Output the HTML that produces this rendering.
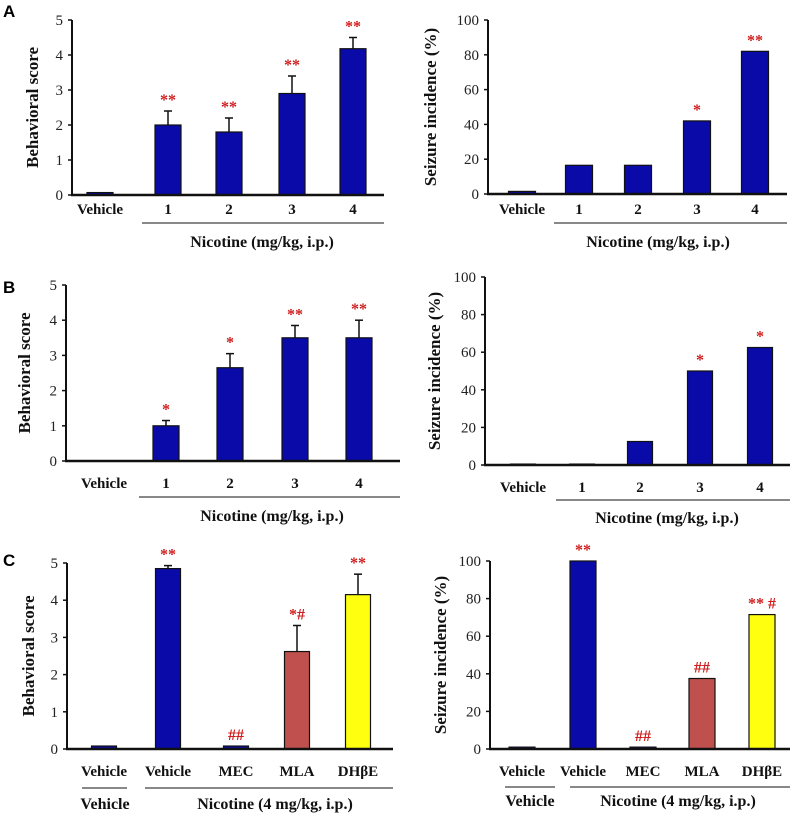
<!DOCTYPE html>
<html><head><meta charset="utf-8">
<style>
html,body{margin:0;padding:0;background:#fff;}
svg{display:block;font-family:"Liberation Serif",serif;}
.tk{font-size:15px;fill:#222;}
.cl{font-size:15px;font-weight:bold;fill:#111;}
.yt{font-size:17px;font-weight:bold;fill:#111;}
.sig{font-size:16px;fill:#d01c1c;font-weight:bold;}
.pl{font-family:"Liberation Sans",sans-serif;font-size:17px;font-weight:bold;}
</style></head><body>
<svg id="fig" width="800" height="826" viewBox="0 0 800 826">
<text class="pl" x="3" y="17">A</text>
<text class="pl" x="3" y="293">B</text>
<text class="pl" x="3" y="566">C</text>
</svg>
<script>
// ---- data ----
const catsDose = ["Vehicle","1","2","3","4"];
const catsC = ["Vehicle","Vehicle","MEC","MLA","DHβE"];
const aScore = [0.07,2.0,1.8,2.9,4.18];
const aScoreErr = [0,0.4,0.4,0.5,0.32];
const aScoreSig = ["","**","**","**","**"];
const aSeiz = [1.5,16.5,16.5,42,82];
const aSeizSig = ["","","","*","**"];
const bScore = [0,1.0,2.65,3.5,3.5];
const bScoreErr = [0,0.15,0.4,0.35,0.5];
const bScoreSig = ["","*","*","**","**"];
const bSeiz = [0.5,0.5,12.5,50,62.5];
const bSeizSig = ["","","","*","*"];
const cScore = [0.08,4.85,0.08,2.62,4.15];
const cScoreErr = [0,0.08,0,0.7,0.55];
const cScoreSig = ["","**","##","*#","**"];
const cSeiz = [1,100,1,37.5,71.5];
const cSeizSig = ["","**","##","##","** #"];
const colorsDose = ["#0a0aa8","#0a0aa8","#0a0aa8","#0a0aa8","#0a0aa8"];
const colorsC = ["#0a0aa8","#0a0aa8","#0a0aa8","#c0504d","#ffff10"];
const scoreTicks = [0,1,2,3,4,5];
const pctTicks = [0,20,40,60,80,100];

const NS="http://www.w3.org/2000/svg";
const svg=document.getElementById('fig');
function mk(tag,attrs,parent){const e=document.createElementNS(NS,tag);for(const k in attrs)e.setAttribute(k,attrs[k]);(parent||svg).appendChild(e);return e;}

function chart(p){
  const g=mk('g',{});
  
  
  const y=v=>p.y0-(v/p.max)*(p.y0-p.ytop);
  const ax=mk('line',{x1:p.ax,y1:p.ytop,x2:p.ax,y2:p.y0+1,stroke:'#111','stroke-width':2},g);
  
  
  p.ticks.forEach(t=>{
    const tl=mk('line',{x1:p.ax-4,y1:y(t),x2:p.ax,y2:y(t),stroke:'#111','stroke-width':1.5},g);
    
    
    const tx=mk('text',{x:p.ax-9,y:y(t)+5,'text-anchor':'end',class:'tk'},g);
    tx.textContent=t;
    
    
  });
  const yt=mk('text',{x:0,y:0,class:'yt','text-anchor':'middle',transform:`translate(${p.ytx},${(p.y0+p.ytop)/2}) rotate(-90)`},g);
  yt.textContent=p.ytitle;
  
  
  p.vals.forEach((v,i)=>{
    const cx=p.xs[i], top=y(v);
    if(p.err && p.err[i]>0){
      const el=mk('line',{x1:cx,y1:y(v+p.err[i]),x2:cx,y2:top,stroke:'#111','stroke-width':1.5},g);
      
      
      const ec=mk('line',{x1:cx-4,y1:y(v+p.err[i]),x2:cx+4,y2:y(v+p.err[i]),stroke:'#111','stroke-width':1.5},g);
      
      
    }
    const b=mk('rect',{x:cx-p.bw/2,y:top,width:p.bw,height:Math.max(p.y0-top,0),fill:p.colors[i],stroke:'#111','stroke-width':1.2},g);
    
    
    if(p.sig[i]){
      const st=p.err?y(v+p.err[i]):top;
      const s=mk('text',{x:cx,y:st-6,'text-anchor':'middle',class:'sig'},g);
      s.textContent=p.sig[i];
      
      
    }
    const cl=mk('text',{x:cx,y:p.ly,'text-anchor':'middle',class:'cl'},g);
    cl.textContent=p.cats[i];
    
    
  });
  const xa=mk('line',{x1:p.ax-1,y1:p.y0,x2:p.xend,y2:p.y0,stroke:'#111','stroke-width':2.5},g);
  
  
  p.unders.forEach(u=>{
    const l=mk('line',{x1:u[0],y1:p.uy,x2:u[1],y2:p.uy,stroke:'#111','stroke-width':1},g);
    
    
  });
  p.titles.forEach(t=>{
    const tt=mk('text',{x:t[1],y:p.ty,'text-anchor':'middle',class:'cl','font-size':'16px',style:'font-size:16px'},g);
    tt.textContent=t[0];
    
    
  });
}

chart({name:'chart-a-behavioral-score',ax:72,y0:195,ytop:20,max:5,ticks:scoreTicks,ytx:38,ytitle:'Behavioral score',
  xs:[100,168,229,292,353],bw:26,vals:aScore,err:aScoreErr,sig:aScoreSig,colors:colorsDose,cats:catsDose,ly:214,xend:384,
  uy:223,unders:[[142,384]],ty:247,titles:[['Nicotine (mg/kg, i.p.)',262]]});
chart({name:'chart-a-seizure-incidence',ax:488,y0:194,ytop:20,max:100,ticks:pctTicks,ytx:436,ytitle:'Seizure incidence (%)',
  xs:[522,579,638,697,755],bw:27,vals:aSeiz,err:null,sig:aSeizSig,colors:colorsDose,cats:catsDose,ly:214,xend:787,
  uy:223,unders:[[554,787]],ty:247,titles:[['Nicotine (mg/kg, i.p.)',658]]});
chart({name:'chart-b-behavioral-score',ax:66,y0:461,ytop:285,max:5,ticks:scoreTicks,ytx:30,ytitle:'Behavioral score',
  xs:[104,166,230,295,359],bw:26,vals:bScore,err:bScoreErr,sig:bScoreSig,colors:colorsDose,cats:catsDose,ly:488,xend:400,
  uy:497,unders:[[139,400]],ty:521,titles:[['Nicotine (mg/kg, i.p.)',272]]});
chart({name:'chart-b-seizure-incidence',ax:485,y0:465,ytop:277,max:100,ticks:pctTicks,ytx:440,ytitle:'Seizure incidence (%)',
  xs:[523,582,640,700,760],bw:25,vals:bSeiz,err:null,sig:bSeizSig,colors:colorsDose,cats:catsDose,ly:492,xend:790,
  uy:500,unders:[[556,790]],ty:523,titles:[['Nicotine (mg/kg, i.p.)',667]]});
chart({name:'chart-c-behavioral-score',ax:67,y0:749,ytop:563,max:5,ticks:scoreTicks,ytx:34,ytitle:'Behavioral score',
  xs:[104,168,236,297,358],bw:25,vals:cScore,err:cScoreErr,sig:cScoreSig,colors:colorsC,cats:catsC,ly:776,xend:393,
  uy:788,unders:[[82,127],[145,393]],ty:809,titles:[['Vehicle',105],['Nicotine  (4 mg/kg, i.p.)',275]]});
chart({name:'chart-c-seizure-incidence',ax:490,y0:749,ytop:561,max:100,ticks:pctTicks,ytx:446,ytitle:'Seizure incidence (%)',
  xs:[522,583,643,702,762],bw:26,vals:cSeiz,err:null,sig:cSeizSig,colors:colorsC,cats:catsC,ly:776,xend:790,
  uy:787,unders:[[505,555],[570,790]],ty:806,titles:[['Vehicle',530],['Nicotine  (4 mg/kg, i.p.)',678]]});
</script>
</body></html>
